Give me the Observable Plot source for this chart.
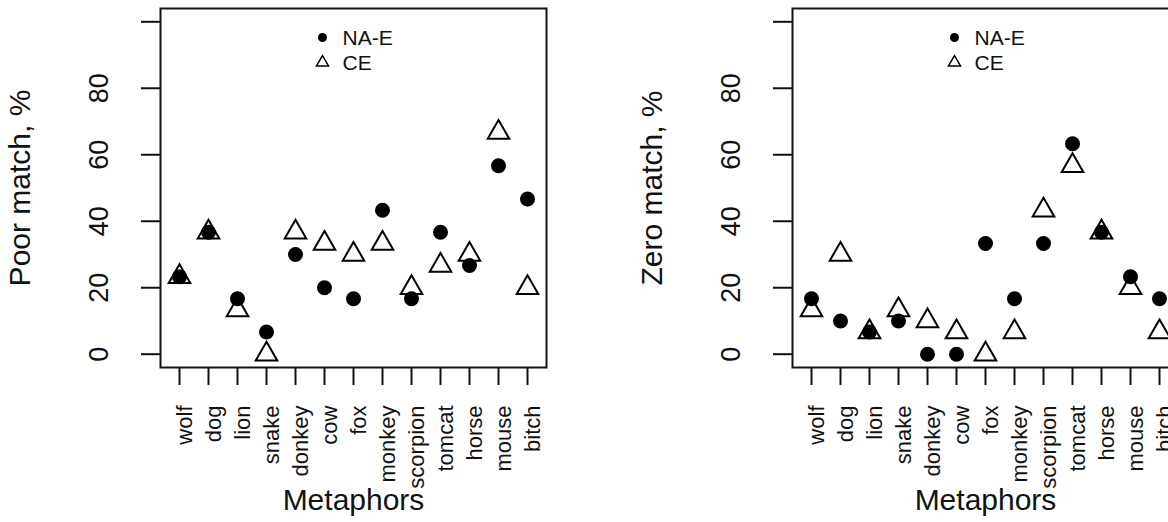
<!DOCTYPE html>
<html>
<head>
<meta charset="utf-8">
<script src="https://cdn.jsdelivr.net/npm/d3@7"></script>
<script src="https://cdn.jsdelivr.net/npm/@observablehq/plot@0.6"></script>
<style>
  html, body { margin: 0; padding: 0; background: #fff; }
  #wrap { position: relative; width: 1168px; height: 522px; overflow: hidden; background: #fff; }
  #wrap svg { position: absolute; top: 0; background: #fff; }
</style>
</head>
<body>
<div id="wrap"></div>
<script>
// ---- data ----
const metaphors = ["wolf","dog","lion","snake","donkey","cow","fox","monkey","scorpion","tomcat","horse","mouse","bitch"];
const poorNAE = [23.3, 36.7, 16.7, 6.7, 30, 20, 16.7, 43.3, 16.7, 36.7, 26.7, 56.7, 46.7];
const poorCE  = [23.3, 36.7, 13.3, 0, 36.7, 33.3, 30, 33.3, 20, 26.7, 30, 66.7, 20];
const zeroNAE = [16.7, 10, 6.7, 10, 0, 0, 33.3, 16.7, 33.3, 63.3, 36.7, 23.3, 16.7];
const zeroCE  = [13.3, 30, 6.7, 13.3, 10, 6.7, 0, 6.7, 43.3, 56.7, 36.7, 20, 6.7];
const yTicks = [0, 20, 40, 60, 80, 100];
const yTickLabels = ["0", "20", "40", "60", "80", ""];
const seriesNames = ["NA-E", "CE"];
const xTitle = "Metaphors";
const yTitles = ["Poor match, %", "Zero match, %"];

const FONT = "'Liberation Sans', Arial, Helvetica, sans-serif";
const INK = "#111";

function panel(yTitle, nae, ce) {
  const naeRows = metaphors.map((m, i) => ({metaphor: m, value: nae[i]}));
  const ceRows = metaphors.map((m, i) => ({metaphor: m, value: ce[i]}));
  const tickRows = yTicks.map((t, i) => ({t, label: yTickLabels[i]})).filter(d => d.label !== "");
  return Plot.plot({
    width: 632,
    height: 522,
    marginTop: 8,
    marginBottom: 155,
    marginLeft: 160,
    marginRight: 86,
    style: {fontFamily: FONT, color: INK, background: "#fff", overflow: "visible"},
    x: {type: "point", domain: metaphors, padding: 0.48, axis: null},
    y: {domain: [-4, 104], axis: null},
    marks: [
      Plot.axisX({tickSize: 18, tickFormat: () => "", stroke: INK, strokeWidth: 2, label: null}),
      Plot.axisY(yTicks, {tickSize: 19, tickFormat: () => "", stroke: INK, strokeWidth: 2, label: null}),
      Plot.text(tickRows, {y: "t", text: "label", frameAnchor: "left", dx: -61, rotate: -90,
        textAnchor: "middle", lineAnchor: "middle", fontSize: 27, fill: INK}),
      Plot.text(metaphors, {x: d => d, text: d => d, frameAnchor: "bottom", dy: 38, dx: 5, rotate: -90,
        textAnchor: "end", lineAnchor: "middle", fontSize: 22, fill: INK}),
      Plot.text([yTitle], {frameAnchor: "left", dx: -140, rotate: -90, textAnchor: "middle",
        lineAnchor: "middle", fontSize: 30, fill: INK}),
      Plot.text([xTitle], {frameAnchor: "bottom", dy: 142, textAnchor: "middle",
        lineAnchor: "bottom", fontSize: 30, fill: INK}),
      Plot.frame({stroke: INK, strokeWidth: 2}),
      Plot.dot(naeRows, {x: "metaphor", y: "value", symbol: "circle", r: 7.5, fill: "#000"}),
      Plot.dot(ceRows, {x: "metaphor", y: "value", symbol: "triangle", r: 8, fill: "none", stroke: "#000", strokeWidth: 2}),
      // legend
      Plot.dot([seriesNames[0]], {frameAnchor: "top", dx: -31, dy: 29, symbol: "circle", r: 4.5, fill: "#000"}),
      Plot.dot([seriesNames[1]], {frameAnchor: "top", dx: -31, dy: 54, symbol: "triangle", r: 4.5, fill: "none", stroke: "#000", strokeWidth: 1.5}),
      Plot.text([seriesNames[0]], {text: d => d, frameAnchor: "top", dx: -11, dy: 29.5, textAnchor: "start",
        lineAnchor: "middle", fontSize: 21, fill: INK}),
      Plot.text([seriesNames[1]], {text: d => d, frameAnchor: "top", dx: -11, dy: 54.5, textAnchor: "start",
        lineAnchor: "middle", fontSize: 21, fill: INK})
    ]
  });
}

const wrap = document.getElementById("wrap");
const left = panel(yTitles[0], poorNAE, poorCE);
left.style.left = "0px";
wrap.appendChild(left);
const right = panel(yTitles[1], zeroNAE, zeroCE);
right.style.left = "632px";
wrap.appendChild(right);
</script>
</body>
</html>
